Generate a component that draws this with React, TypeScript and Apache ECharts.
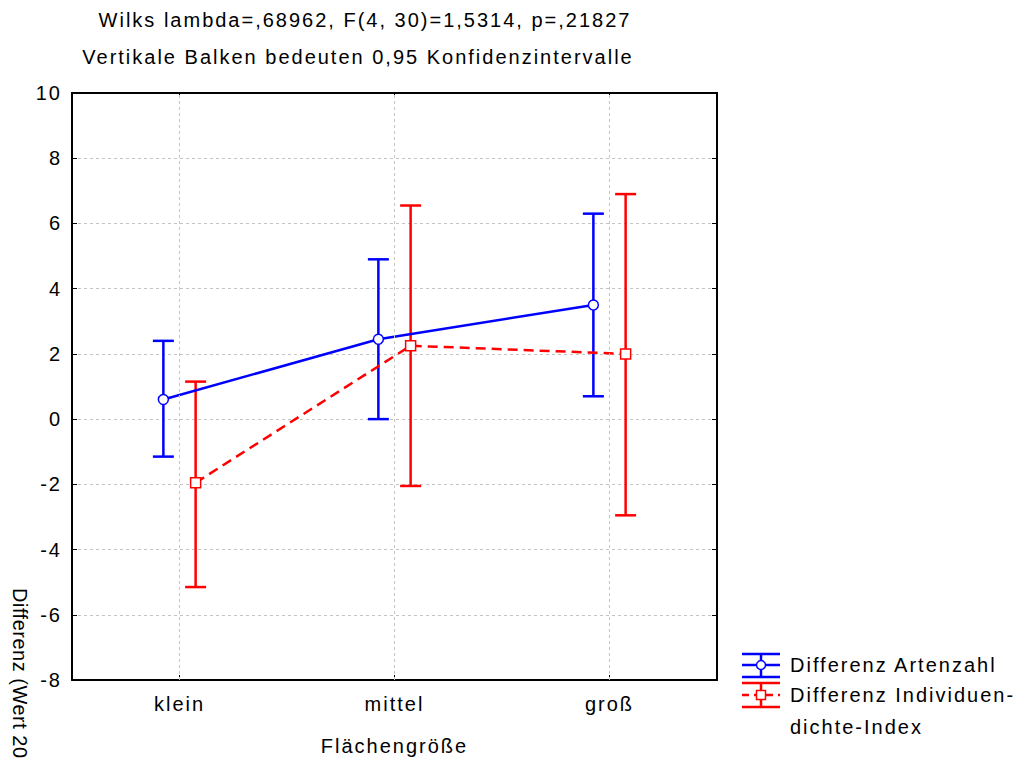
import React, { useEffect, useRef } from "react";
import * as echarts from "echarts";

const categories = ["klein", "mittel", "groß"];
const yTicks = { min: -8, max: 10, interval: 2 };

const artenMean = [0.6, 2.45, 3.5];
const artenLow = [-1.15, 0.0, 0.7];
const artenHigh = [2.4, 4.9, 6.3];

const indivMean = [-1.95, 2.25, 2.0];
const indivLow = [-5.15, -2.05, -2.95];
const indivHigh = [1.15, 6.55, 6.9];

const titleLines = [
  "Wilks lambda=,68962, F(4, 30)=1,5314, p=,21827",
  "Vertikale Balken bedeuten 0,95 Konfidenzintervalle",
];
const xName = "Flächengröße";
const yName = "Differenz (Wert 20";
const legendNames = ["Differenz Artenzahl", "Differenz Individuen-", "dichte-Index"];

const BLUE = "#0000ff";
const RED = "#ff0000";
const FONT = "'Liberation Sans', Arial, sans-serif";
const OFFSET = 0.075;

export default function App() {
  const ref = useRef<HTMLDivElement>(null);

  useEffect(() => {
    if (!ref.current) return;
    const chart = echarts.init(ref.current, undefined, { renderer: "svg" });

    const errItem = (color: string) => (params: any, api: any) => {
      const x = api.value(0);
      const lo = api.coord([x, api.value(1)]);
      const hi = api.coord([x, api.value(2)]);
      const hw = 10.5;
      const style = { stroke: color, lineWidth: 2.5 };
      return {
        type: "group",
        children: [
          { type: "line", shape: { x1: lo[0], y1: lo[1], x2: hi[0], y2: hi[1] }, style },
          { type: "line", shape: { x1: hi[0] - hw, y1: hi[1], x2: hi[0] + hw, y2: hi[1] }, style },
          { type: "line", shape: { x1: lo[0] - hw, y1: lo[1], x2: lo[0] + hw, y2: lo[1] }, style },
        ],
      };
    };

    const artenX = categories.map((_, i) => i - OFFSET);
    const indivX = categories.map((_, i) => i + OFFSET);

    const axisLine = { show: true, onZero: false, lineStyle: { color: "#000", width: 2 } };

    const option: any = {
      animation: false,
      textStyle: { fontFamily: FONT },
      grid: { left: 72, right: 299, top: 93, bottom: 94, containLabel: false },
      xAxis: [
        {
          type: "category",
          data: categories,
          position: "bottom",
          boundaryGap: true,
          axisLine,
          axisTick: { show: true, inside: true, length: 5, alignWithLabel: true, lineStyle: { color: "#000" } },
          axisLabel: { color: "#000", fontSize: 20, margin: 14, fontFamily: FONT },
          splitLine: { show: false },
          name: xName,
          nameLocation: "middle",
          nameGap: 56,
          nameTextStyle: { color: "#000", fontSize: 20, fontFamily: FONT },
        },
        {
          type: "value",
          min: -0.5,
          max: 2.5,
          show: false,
          axisLine: { onZero: false },
        },
        {
          type: "category",
          data: categories,
          position: "top",
          boundaryGap: true,
          axisLine,
          axisTick: { show: true, inside: true, length: 5, alignWithLabel: true, lineStyle: { color: "#000" } },
          axisLabel: { show: false },
          splitLine: { show: false },
        },
      ],
      yAxis: [
        {
          type: "value",
          min: yTicks.min,
          max: yTicks.max,
          interval: yTicks.interval,
          position: "left",
          axisLine,
          axisTick: { show: true, inside: true, length: 5, lineStyle: { color: "#000" } },
          axisLabel: { color: "#000", fontSize: 20, margin: 10, fontFamily: FONT },
          splitLine: { show: true, lineStyle: { color: "#c4c4c4", type: [3, 3], width: 1 } },
        },
        {
          type: "value",
          min: yTicks.min,
          max: yTicks.max,
          interval: yTicks.interval,
          position: "right",
          axisLine,
          axisTick: { show: true, inside: true, length: 5, lineStyle: { color: "#000" } },
          axisLabel: { show: false },
          splitLine: { show: false },
        },
      ],
      series: [
        {
          type: "line",
          xAxisIndex: 1,
          yAxisIndex: 0,
          data: [],
          z: 1,
          silent: true,
          markLine: {
            silent: true,
            symbol: ["none", "none"],
            label: { show: false },
            lineStyle: { color: "#c4c4c4", type: [3, 3], width: 1 },
            data: categories.map((_, i) => ({ xAxis: i })),
          },
        },
        {
          type: "custom",
          xAxisIndex: 1,
          yAxisIndex: 0,
          z: 3,
          renderItem: errItem(BLUE),
          data: artenX.map((x, i) => [x, artenLow[i], artenHigh[i]]),
        },
        {
          type: "custom",
          xAxisIndex: 1,
          yAxisIndex: 0,
          z: 3,
          renderItem: errItem(RED),
          data: indivX.map((x, i) => [x, indivLow[i], indivHigh[i]]),
        },
        {
          type: "line",
          xAxisIndex: 1,
          yAxisIndex: 0,
          z: 4,
          data: artenX.map((x, i) => [x, artenMean[i]]),
          symbol: "circle",
          symbolSize: 10,
          showAllSymbol: true,
          lineStyle: { color: BLUE, width: 2.5 },
          itemStyle: { color: "#fff", borderColor: BLUE, borderWidth: 1.5 },
        },
        {
          type: "line",
          xAxisIndex: 1,
          yAxisIndex: 0,
          z: 4,
          data: indivX.map((x, i) => [x, indivMean[i]]),
          symbol: "rect",
          symbolSize: 10,
          showAllSymbol: true,
          lineStyle: { color: RED, width: 2.5, type: [10, 6] },
          itemStyle: { color: "#fff", borderColor: RED, borderWidth: 1.5 },
        },
      ],
      graphic: [
        {
          type: "text",
          x: 365,
          y: 20,
          style: { text: titleLines[0], fontSize: 20, fontFamily: FONT, fill: "#000", align: "center", verticalAlign: "middle" },
        },
        {
          type: "text",
          x: 358,
          y: 57,
          style: { text: titleLines[1], fontSize: 20, fontFamily: FONT, fill: "#000", align: "center", verticalAlign: "middle" },
        },
        {
          type: "text",
          x: 20,
          y: 588,
          rotation: -Math.PI / 2,
          style: { text: yName, fontSize: 20, fontFamily: FONT, fill: "#000", align: "left", verticalAlign: "middle" },
        },
        // legend: Artenzahl
        { type: "line", shape: { x1: 742, y1: 654, x2: 780, y2: 654 }, style: { stroke: BLUE, lineWidth: 2.5 } },
        { type: "line", shape: { x1: 742, y1: 665, x2: 780, y2: 665 }, style: { stroke: BLUE, lineWidth: 2.5 } },
        { type: "line", shape: { x1: 742, y1: 677, x2: 780, y2: 677 }, style: { stroke: BLUE, lineWidth: 2.5 } },
        { type: "line", shape: { x1: 761, y1: 654, x2: 761, y2: 677 }, style: { stroke: BLUE, lineWidth: 2.5 } },
        { type: "circle", shape: { cx: 761, cy: 665, r: 4.5 }, style: { fill: "#fff", stroke: BLUE, lineWidth: 1.5 } },
        // legend: Individuendichte
        { type: "line", shape: { x1: 742, y1: 683, x2: 780, y2: 683 }, style: { stroke: RED, lineWidth: 2.5 } },
        { type: "line", shape: { x1: 742, y1: 695, x2: 780, y2: 695 }, style: { stroke: RED, lineWidth: 2.5, lineDash: [7, 5] } },
        { type: "line", shape: { x1: 742, y1: 707, x2: 780, y2: 707 }, style: { stroke: RED, lineWidth: 2.5 } },
        { type: "line", shape: { x1: 761, y1: 683, x2: 761, y2: 707 }, style: { stroke: RED, lineWidth: 2.5 } },
        { type: "rect", shape: { x: 756.5, y: 690.5, width: 9, height: 9 }, style: { fill: "#fff", stroke: RED, lineWidth: 1.5 } },
        {
          type: "text",
          x: 790,
          y: 665,
          style: { text: legendNames[0], fontSize: 20, fontFamily: FONT, fill: "#000", align: "left", verticalAlign: "middle" },
        },
        {
          type: "text",
          x: 790,
          y: 695,
          style: { text: legendNames[1], fontSize: 20, fontFamily: FONT, fill: "#000", align: "left", verticalAlign: "middle" },
        },
        {
          type: "text",
          x: 790,
          y: 727,
          style: { text: legendNames[2], fontSize: 20, fontFamily: FONT, fill: "#000", align: "left", verticalAlign: "middle" },
        },
      ],
    };

    chart.setOption(option);

    const tightenYName = () => {
      if (!ref.current) return;
      ref.current.querySelectorAll("text").forEach((t) => {
        if (t.textContent === yName) {
          (t as SVGTextElement).style.letterSpacing = "0.5px";
        }
      });
    };
    tightenYName();
    chart.on("finished", tightenYName);

    return () => chart.dispose();
  }, []);

  return (
    <div
      ref={ref}
      style={{
        position: "fixed",
        left: 0,
        top: 0,
        width: 1016,
        height: 774,
        background: "#fff",
        letterSpacing: "2px",
      }}
    />
  );
}
